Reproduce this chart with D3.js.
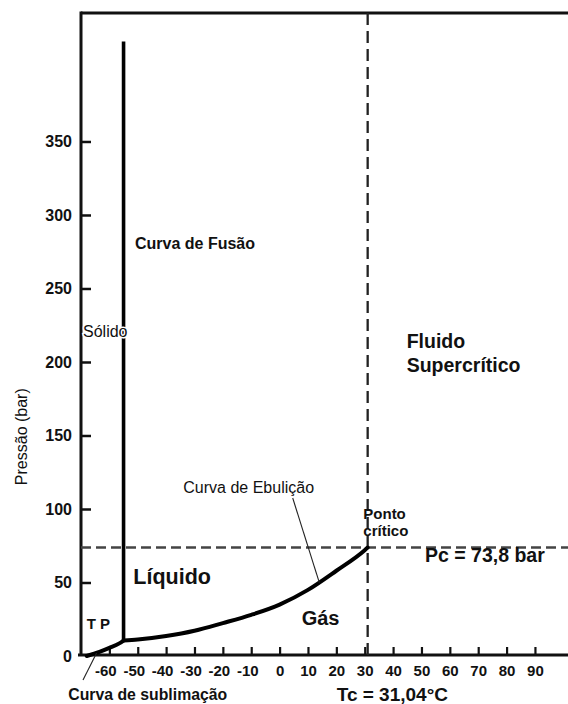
<!DOCTYPE html>
<html>
<head>
<meta charset="utf-8">
<script src="https://cdn.jsdelivr.net/npm/d3@7/dist/d3.min.js"></script>
<style>
  html, body { margin: 0; padding: 0; background: #fff; }
  svg { display: block; }
  text { font-family: "Liberation Sans", Arial, sans-serif; fill: #111; }
</style>
</head>
<body>
<svg id="chart" width="568" height="704"></svg>
<script>
// CO2 phase diagram: temperature (°C) vs pressure (bar)
const xTicks = [-60, -50, -40, -30, -20, -10, 0, 10, 20, 30, 40, 50, 60, 70, 80, 90];
const yTicks = [0, 50, 100, 150, 200, 250, 300, 350];

// Boiling (vaporisation) curve, triple point to critical point
const boilT = [-55, -50, -40, -30, -20, -10, 0, 10, 20, 30, 31.04];
const boilP = [10.5, 11.2, 13.6, 17.2, 22.4, 28, 35, 45, 58, 72, 73.8];

// Sublimation curve, below the triple point
const sublT = [-68, -63.5, -60, -56.5, -55];
const sublP = [0, 2.8, 5.5, 8.6, 10.5];

// Melting (fusion) curve
const meltT = [-55, -55];
const meltP = [10.5, 418];

// Critical point
const Tc = 31.04;
const Pc = 73.8;

const svg = d3.select("#chart");
const plotL = 81, plotR = 568, plotT = 13, plotB = 656;

const x = d3.scaleLinear().domain([-70, 101.65]).range([plotL, plotR]);
const y = d3.scaleLinear().domain([0, 437.4]).range([plotB, plotT]);

const line = d3.line().x(d => x(d[0])).y(d => y(d[1]));
const zip = (a, b) => a.map((v, i) => [v, b[i]]);

// Top border of the frame
svg.append("line")
  .attr("x1", plotL).attr("x2", plotR).attr("y1", plotT).attr("y2", plotT)
  .attr("stroke", "#111").attr("stroke-width", 3);

// Y axis
const yAxis = d3.axisLeft(y).tickValues(yTicks).tickSize(-10).tickPadding(9)
  .tickFormat(d => String(d));
const gy = svg.append("g").attr("transform", `translate(${plotL},0)`).call(yAxis);
gy.select(".domain").remove();
gy.selectAll(".tick line").attr("stroke", "#111").attr("stroke-width", 2.5)
  .filter(d => d === 0).remove();
gy.selectAll(".tick text")
  .style("font-family", "'Liberation Sans', Arial, sans-serif")
  .style("font-size", "16px").style("font-weight", "bold").attr("fill", "#111");

// X axis
const xAxis = d3.axisBottom(x).tickValues(xTicks).tickSize(-8).tickPadding(10)
  .tickFormat(d => String(d));
const gx = svg.append("g").attr("transform", `translate(0,${plotB - 1})`).call(xAxis);
gx.select(".domain").remove();
gx.selectAll(".tick line").attr("stroke", "#111").attr("stroke-width", 2.2);
gx.selectAll(".tick text")
  .style("font-family", "'Liberation Sans', Arial, sans-serif")
  .style("font-size", "15px").style("font-weight", "bold").attr("fill", "#111")
  .attr("dx", d => d < 0 ? -4 : 0);

svg.append("line")
  .attr("x1", plotL).attr("x2", plotL).attr("y1", plotT - 1.5).attr("y2", plotB)
  .attr("stroke", "#111").attr("stroke-width", 3);
svg.append("line")
  .attr("x1", plotL - 3).attr("x2", plotR).attr("y1", plotB - 1).attr("y2", plotB - 1)
  .attr("stroke", "#111").attr("stroke-width", 3);

// Critical temperature and pressure guides
svg.append("line")
  .attr("x1", x(Tc)).attr("x2", x(Tc)).attr("y1", plotT).attr("y2", plotB - 1)
  .attr("stroke", "#222").attr("stroke-width", 2.3).attr("stroke-dasharray", "12,6");
svg.append("line")
  .attr("x1", plotL).attr("x2", plotR).attr("y1", y(Pc)).attr("y2", y(Pc))
  .attr("stroke", "#444").attr("stroke-width", 2.3).attr("stroke-dasharray", "10,5");

// Phase boundaries
const curveStyle = p => p.attr("fill", "none").attr("stroke", "#000")
  .attr("stroke-width", 4).attr("stroke-linejoin", "round").attr("stroke-linecap", "round");

svg.append("path").datum(zip(meltT, meltP))
  .attr("d", line).call(curveStyle).attr("stroke-linecap", "butt").attr("stroke-width", 3.6);
const subl = svg.append("path").datum(zip(sublT, sublP))
  .attr("d", line.curve(d3.curveMonotoneX)).call(curveStyle);
const boil = svg.append("path").datum(zip(boilT, boilP))
  .attr("d", line.curve(d3.curveMonotoneX)).call(curveStyle);

// Point on a drawn path at a given screen x
function pointAtX(node, px) {
  const L = node.getTotalLength();
  let lo = 0, hi = L;
  for (let i = 0; i < 40; i++) {
    const mid = (lo + hi) / 2;
    if (node.getPointAtLength(mid).x < px) lo = mid; else hi = mid;
  }
  return node.getPointAtLength((lo + hi) / 2);
}

// Leader lines for the curve names
const pb = pointAtX(boil.node(), x(14));
svg.append("line").attr("x1", 292.7).attr("y1", 498).attr("x2", pb.x).attr("y2", pb.y)
  .attr("stroke", "#222").attr("stroke-width", 1.1);
const ps = pointAtX(subl.node(), x(-64.5));
svg.append("line").attr("x1", 83).attr("y1", 680).attr("x2", ps.x).attr("y2", ps.y)
  .attr("stroke", "#222").attr("stroke-width", 1.1);

// Labels
function label(txt, px, py, size, weight, opts = {}) {
  const t = svg.append("text").attr("x", px).attr("y", py)
    .style("font-size", size + "px").style("font-weight", weight).text(txt);
  if (opts.halo) t.attr("stroke", "#fff").attr("stroke-width", 3).attr("paint-order", "stroke");
  return t;
}

label("Curva de Fusão", 135, 248.5, 16, "bold");
label("Sólido", 83, 336.5, 16, "normal", { halo: true });
label("Líquido", 133.3, 584.3, 21.5, "bold");
label("Gás", 301.7, 625, 20, "bold");
label("Fluido", 406.7, 348.3, 19.5, "bold");
label("Supercrítico", 406.7, 371.7, 19.5, "bold");
label("Ponto", 363.3, 519, 15, "bold");
label("crítico", 363.3, 536, 15, "bold");
label("Pc = 73,8 bar", 425, 561.7, 19.5, "bold");
label("Tc = 31,04°C", 336.7, 700.5, 19, "bold");
label("Curva de sublimação", 68.3, 700, 15.8, "bold");
label("Curva de Ebulição", 183.3, 492.7, 16, "normal");
label("T P", 86.7, 629.3, 15, "bold");

svg.append("text")
  .attr("transform", "translate(27,436.7) rotate(-90)")
  .attr("text-anchor", "middle")
  .style("font-size", "16px").style("font-weight", "normal").attr("fill", "#222")
  .text("Pressão (bar)");
</script>
</body>
</html>
